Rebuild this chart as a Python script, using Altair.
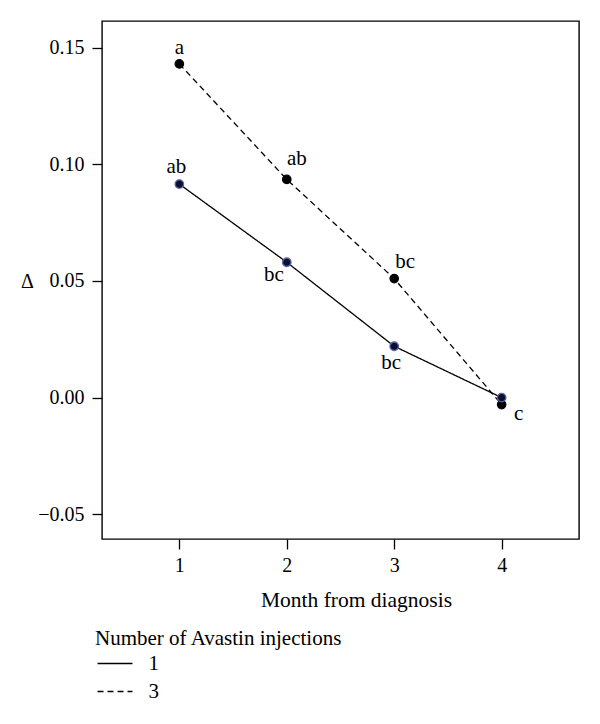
import altair as alt
import pandas as pd

months = [1, 2, 3, 4]
delta_one = [0.0915, 0.058, 0.022, 0.000]
delta_three = [0.143, 0.0935, 0.051, -0.003]
letters_one = ["ab", "bc", "bc", ""]
letters_three = ["a", "ab", "bc", "c"]
series_names = ["1", "3"]

rows = []
for m, v, l in zip(months, delta_three, letters_three):
    rows.append(dict(month=m, delta=v, series="3", letter=l))
for m, v, l in zip(months, delta_one, letters_one):
    rows.append(dict(month=m, delta=v, series="1", letter=l))
df = pd.DataFrame(rows)

FONT = "Liberation Serif"

x = alt.X("month:Q",
          scale=alt.Scale(domain=[0.28, 4.72], nice=False, zero=False),
          axis=alt.Axis(values=[1, 2, 3, 4], format="d", title="Month from diagnosis",
                        titleX=254, titleY=67, titleAlign="center", titleBaseline="alphabetic",
                        titleFontSize=21.5, labelPadding=6))
y = alt.Y("delta:Q",
          scale=alt.Scale(domain=[-0.0606, 0.1614], nice=False, zero=False),
          axis=alt.Axis(values=[-0.05, 0, 0.05, 0.1, 0.15], format=".2f", title="Δ",
                        titleAngle=0, titleX=-75, titleY=260, titleAlign="center",
                        titleBaseline="middle", labelPadding=8))

base = alt.Chart(df)

lines = base.mark_line(color="black", strokeWidth=1.3).encode(
    x=x, y=y,
    strokeDash=alt.StrokeDash(
        "series:N",
        scale=alt.Scale(domain=series_names, range=[[1, 0], [6, 4]]),
        legend=alt.Legend(title="Number of Avastin injections", orient="none",
                          legendX=-7, legendY=607, symbolType="M-1.5,0H1.5",
                          symbolSize=544, symbolStrokeWidth=1.3, symbolOffset=7.5,
                          symbolStrokeColor="black", padding=0,
                          titleFont=FONT, titleFontSize=21, titleFontWeight="normal",
                          titleColor="black", titleLimit=500, labelFont=FONT, labelFontSize=21,
                          labelColor="black", labelOffset=21, titlePadding=2,
                          rowPadding=5)),
)

points_three = base.transform_filter(alt.datum.series == "3").mark_point(
    filled=True, size=72, strokeWidth=1.2, opacity=1, fill="black", stroke="black"
).encode(x=x, y=y)

points_one = base.transform_filter(alt.datum.series == "1").mark_point(
    filled=True, size=72, strokeWidth=1.3, opacity=1, fill="#0c0f30", stroke="#5565a5"
).encode(x=x, y=y)

# label offsets (pixels) per (series, month)
offsets = {
    ("3", 1): (0, -16), ("3", 2): (10, -20), ("3", 3): (11, -17), ("3", 4): (17, 9),
    ("1", 1): (-3, -17), ("1", 2): (-13, 13), ("1", 3): (-3, 17),
}
label_layers = []
for (s, m), (dx, dy) in offsets.items():
    label_layers.append(
        base.transform_filter((alt.datum.series == s) & (alt.datum.month == m))
        .mark_text(font=FONT, fontSize=21, color="black", dx=dx, dy=dy,
                   align="center", baseline="middle")
        .encode(x=x, y=y, text="letter:N")
    )

chart = alt.layer(lines, points_three, points_one, *label_layers).properties(
    width=477, height=518,
    autosize=alt.AutoSizeParams(type="none"),
    padding={"left": 94, "top": 13, "right": 13, "bottom": 177},
).configure_view(
    stroke="black", strokeWidth=1.4
).configure_axis(
    domain=False, grid=False, ticks=True, tickColor="black", tickWidth=1.3, tickSize=10,
    labelFont=FONT, labelFontSize=20, labelColor="black",
    titleFont=FONT, titleFontSize=20, titleFontWeight="normal", titleColor="black",
)

chart.save("out.html", embed_options={"renderer": "svg", "actions": False})
